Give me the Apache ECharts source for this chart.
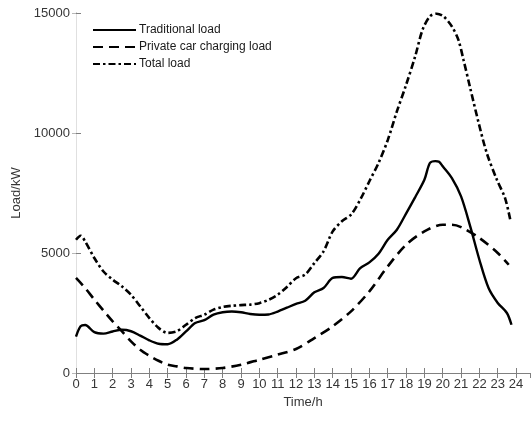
<!DOCTYPE html>
<html>
<head>
<meta charset="utf-8">
<script src="https://cdn.jsdelivr.net/npm/echarts@6/dist/echarts.min.js"></script>
<style>html,body{margin:0;padding:0;background:#fff}#c{width:531px;height:421px}</style>
</head>
<body>
<div id="c"></div>
<script>
var seriesNames = ['Traditional load', 'Private car charging load', 'Total load'];
var xTicks = [0,1,2,3,4,5,6,7,8,9,10,11,12,13,14,15,16,17,18,19,20,21,22,23,24];
var yTicks = [0, 5000, 10000, 15000];

var tradHours = [0,0.25,0.5,1,1.5,2,2.5,3,3.5,4,4.5,5,5.5,6,6.5,7,7.5,8,8.5,9,9.5,10,10.5,11,11.5,12,12.5,13,13.5,14,14.5,15,15.5,16,16.5,17,17.5,18,18.5,19,19.3,19.6,19.8,20,20.5,21,21.5,22,22.5,23,23.5,23.75];
var tradLoad = [1520,1950,2000,1700,1640,1730,1800,1740,1560,1360,1220,1200,1390,1730,2080,2200,2430,2530,2560,2530,2460,2430,2440,2560,2720,2880,3010,3360,3540,3960,4000,3930,4370,4610,4970,5550,5970,6640,7330,8050,8750,8830,8800,8610,8120,7360,6110,4720,3540,2920,2500,2010];

var chargeHours = [0,0.5,1,1.5,2,2.5,3,3.5,4,4.5,5,5.5,6,7,8,9,10,11,12,13,14,15,16,17,18,19,20,20.5,21,22,23,23.6];
var chargeLoad = [3960,3540,3060,2600,2150,1740,1320,970,720,510,345,275,210,165,210,345,555,765,1000,1455,1945,2570,3400,4440,5345,5900,6180,6180,6080,5625,5000,4510];

var totalHours = [0,0.25,0.5,1,1.5,2,2.5,3,3.5,4,4.5,5,5.5,6,6.5,7,7.5,8,8.5,9,9.5,10,10.5,11,11.5,12,12.5,13,13.5,14,14.5,15,15.5,16,16.5,17,17.5,18,18.5,18.9,19.3,19.67,20.04,20.5,20.85,21.13,21.5,21.95,22.4,22.95,23.4,23.7];
var totalLoad = [5550,5720,5480,4790,4230,3890,3610,3260,2780,2290,1880,1670,1740,2010,2290,2430,2640,2750,2800,2830,2850,2910,3050,3260,3580,3950,4100,4580,5070,5900,6320,6600,7220,7990,8750,9700,10900,12000,13200,14300,14860,14970,14860,14440,13890,13060,11870,10450,9170,8060,7290,6320];

function pairs(h, v) { return h.map(function (x, i) { return [x, v[i]]; }); }

var FONT = 'Liberation Sans, Arial, sans-serif';
var AXIS = '#808080';
var LABEL = '#363636';
var xMax = 24.76;

var chart = echarts.init(document.getElementById('c'), null, {renderer: 'canvas'});
chart.setOption({
  animation: false,
  backgroundColor: '#fff',
  grid: {left: 76, top: 13, right: 1, bottom: 48, containLabel: false},
  legend: {
    orient: 'vertical',
    left: 92, top: 23, padding: 0,
    itemWidth: 43, itemHeight: 14, itemGap: 3,
    itemStyle: {opacity: 0},
    textStyle: {fontFamily: FONT, fontSize: 12, color: '#1a1a1a', padding: [0, 0, 0, -2], lineHeight: 14},
    data: seriesNames
  },
  xAxis: [{
    type: 'value', min: 0, max: xMax, interval: 1,
    name: 'Time/h', nameLocation: 'middle', nameGap: 23,
    nameTextStyle: {fontFamily: FONT, fontSize: 13, color: LABEL},
    axisLine: {lineStyle: {color: AXIS, width: 1}},
    axisTick: {inside: true, length: 5, lineStyle: {color: AXIS}},
    axisLabel: {fontFamily: FONT, fontSize: 13, color: LABEL, margin: 5, showMaxLabel: false,
      formatter: function (v) { return xTicks.indexOf(v) >= 0 ? String(v) : ''; }},
    splitLine: {show: false}
  }, {
    type: 'value', min: 0, max: xMax, interval: 1, position: 'top',
    axisLine: {show: true, lineStyle: {color: AXIS, width: 1}},
    axisTick: {inside: true, length: 5, lineStyle: {color: AXIS}},
    axisLabel: {show: false},
    splitLine: {show: false}
  }],
  yAxis: [{
    type: 'value', min: 0, max: 15000, interval: 5000,
    name: 'Load/kW', nameLocation: 'middle', nameGap: 50, nameRotate: 90,
    nameTextStyle: {fontFamily: FONT, fontSize: 13, color: LABEL},
    axisLine: {show: true, lineStyle: {color: AXIS, width: 1}},
    axisTick: {show: true, inside: true, length: 5, lineStyle: {color: AXIS}},
    axisLabel: {fontFamily: FONT, fontSize: 13, color: LABEL, margin: 6,
      formatter: function (v) { return yTicks.indexOf(v) >= 0 ? String(v) : ''; }},
    splitLine: {show: false}
  }, {
    type: 'value', min: 0, max: 15000, interval: 5000, position: 'right',
    axisLine: {show: true, lineStyle: {color: '#e0e0e0', width: 1}},
    axisTick: {show: true, inside: true, length: 4, lineStyle: {color: '#b8b8b8'}},
    axisLabel: {show: false},
    splitLine: {show: false}
  }],
  series: [{
    name: seriesNames[0], type: 'line', xAxisIndex: 0, yAxisIndex: 0,
    data: pairs(tradHours, tradLoad), smooth: 0.3, symbol: 'none',
    lineStyle: {color: '#000', width: 2.4, type: 'solid'}, itemStyle: {color: '#000'}
  }, {
    name: seriesNames[1], type: 'line', xAxisIndex: 0, yAxisIndex: 0,
    data: pairs(chargeHours, chargeLoad), smooth: 0.3, symbol: 'none',
    lineStyle: {color: '#000', width: 2.6, type: [10, 6]}, itemStyle: {color: '#000'}
  }, {
    name: seriesNames[2], type: 'line', xAxisIndex: 0, yAxisIndex: 0,
    data: pairs(totalHours, totalLoad), smooth: 0.3, symbol: 'none',
    lineStyle: {color: '#000', width: 2.6, type: [7, 3, 2.5, 3]}, itemStyle: {color: '#000'}
  }]
});
</script>
</body>
</html>
